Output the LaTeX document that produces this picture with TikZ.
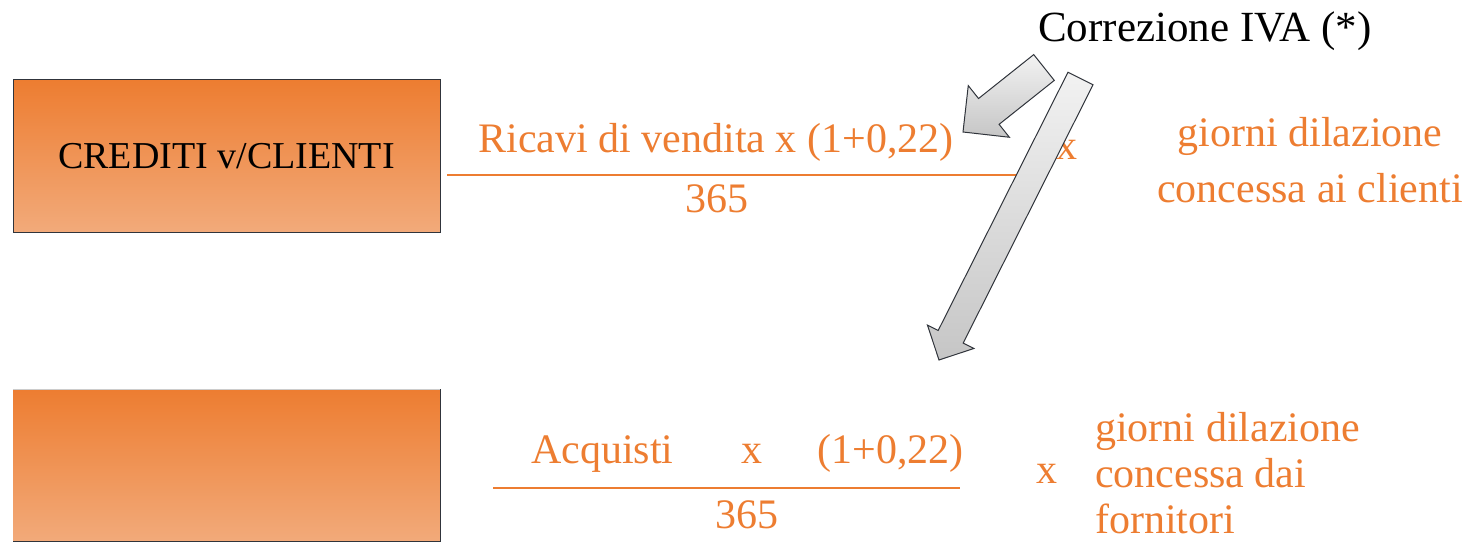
\documentclass[tikz,border=0pt]{standalone}
\usepackage{fontspec}
\setmainfont{Liberation Serif}
\usepackage{tikz}
\usetikzlibrary{calc}
\definecolor{ivaorange}{HTML}{ED7D31}
\definecolor{ivalight}{HTML}{F2AA7A}
\definecolor{darkgray}{HTML}{30343B}
\tikzset{
  ratiobox/.style={rectangle,minimum width=427pt,minimum height=152pt,inner sep=0pt,top color=ivaorange,bottom color=ivalight},
  formula/.style={text=ivaorange,font=\fontsize{42}{50}\selectfont,inner sep=0pt},
  boxlabel/.style={font=\fontsize{38}{44}\selectfont},
  fracline/.style={ivaorange,line width=1.5pt},
  ivaarrow/.style={draw=darkgray,line width=1pt,top color=gray!10,bottom color=gray!45}
}
% tail, tip, half shaft, half head, head length
\newcommand{\blockarrow}[5]{%
  \coordinate (hb) at ($(#2)!#5!(#1)$);
  \shade[ivaarrow] ($(#1)!#3!90:(#2)$) -- ($(hb)!#3!90:(#2)$) -- ($(hb)!#4!90:(#2)$) -- (#2)
    -- ($(hb)!#4!-90:(#2)$) -- ($(hb)!#3!-90:(#2)$) -- ($(#1)!#3!-90:(#2)$) -- cycle;
}

\begin{document}
\begin{tikzpicture}[x=1pt,y=1pt]
\useasboundingbox (0,0) rectangle (1473,542);
\node[ratiobox,draw=darkgray,line width=1pt,boxlabel] (crediti) at (226.5,386) {CREDITI v/CLIENTI};
\node[ratiobox] (debiti) at (226.5,76.5) {};
\draw[gray!40] (debiti.north west) -- (debiti.north east);
\draw[darkgray,line width=1.2pt] (debiti.north east) -- (debiti.south east) -- (debiti.south west);

\node[formula,anchor=base] (ricavi) at (716,389) {Ricavi di vendita x (1+0,22)};
\draw[fracline] (447,367) -- (1020,367);
\node[formula,anchor=base] (giorni1) at (717,330) {365};
\node[formula,anchor=base] (per1) at (1067,382) {x};
\node[formula,align=center,font=\fontsize{42}{56}\selectfont,anchor=base] (dilaz1) at (1310,339) {giorni dilazione\\concessa ai clienti};

\node[formula,anchor=base] (acquisti) at (747.5,79) {Acquisti\hspace{68pt}x\hspace{55pt}(1+0,22)};
\draw[fracline] (493,54) -- (960,54);
\node[formula,anchor=base] (giorni2) at (747,14) {365};
\node[formula,anchor=base] (per2) at (1047,59) {x};
\node[formula,align=left,font=\fontsize{42}{46}\selectfont,anchor=base west] (dilaz2) at (1095,9) {giorni dilazione\\concessa dai\\fornitori};

\node[font=\fontsize{43}{50}\selectfont,inner sep=0pt,anchor=base] (corr) at (1205,500) {Correzione IVA (*)};

\coordinate (coda1) at (1044,474.5);
\coordinate (punta1) at (963,410);
\coordinate (coda2) at (1080.5,463.5);
\coordinate (punta2) at (939,182);
\blockarrow{coda1}{punta1}{16.5pt}{33pt}{33pt}
\blockarrow{coda2}{punta2}{14pt}{26pt}{26pt}
\end{tikzpicture}
\end{document}
